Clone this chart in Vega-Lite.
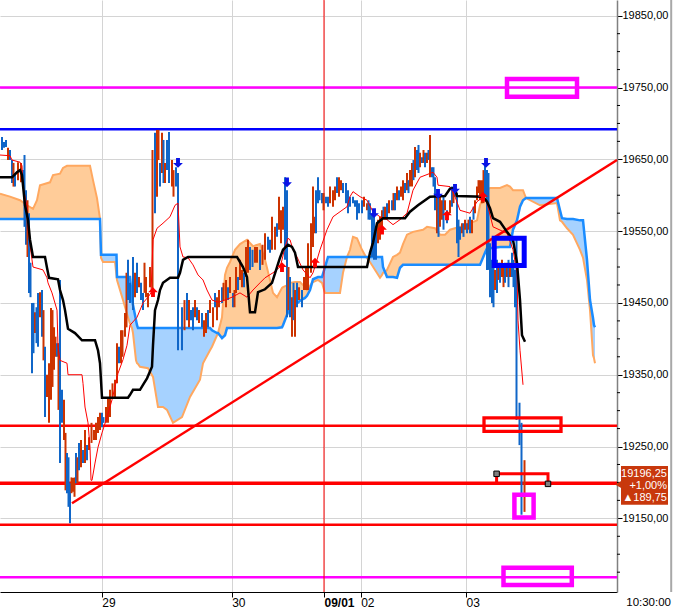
{
"$schema": "https://vega.github.io/schema/vega-lite/v6.json",
"width": 617,
"height": 592,
"autosize": {"type": "none"},
"padding": {"left": 0, "top": 0, "right": 56, "bottom": 22},
"background": "#FFFFFF",
"config": {"view": {"stroke": null}, "font": "Liberation Sans, Arial, sans-serif"},
"datasets": {
"cloud": [
{"t":0,"a":19602,"b":19567,"s":1,"f":"o"},{"t":5,"a":19598,"b":19567,"s":1,"f":"o"},{"t":10,"a":19593,"b":19567,"s":1,"f":"o"},{"t":13.5,"a":19586,"b":19567,"s":1,"f":"o"},{"t":16.5,"a":19581,"b":19567,"s":1,"f":"o"},{"t":18.5,"a":19593,"b":19567,"s":1,"f":"o"},{"t":20,"a":19614,"b":19567,"s":1,"f":"o"},{"t":25,"a":19618,"b":19567,"s":1,"f":"o"},{"t":26.5,"a":19628,"b":19567,"s":1,"f":"o"},{"t":30,"a":19630,"b":19567,"s":1,"f":"o"},{"t":31.5,"a":19638,"b":19567,"s":1,"f":"o"},{"t":33.5,"a":19641,"b":19567,"s":1,"f":"o"},{"t":45,"a":19641,"b":19567,"s":1,"f":"o"},{"t":46.5,"a":19621,"b":19567,"s":1,"f":"o"},{"t":48.5,"a":19596,"b":19567,"s":1,"f":"o"},{"t":50,"a":19567,"b":19567,"s":1,"f":"o"},
{"t":50,"a":19567,"b":19567,"s":2,"f":"b"},{"t":50.5,"a":19513,"b":19517,"s":2,"f":"b"},{"t":51.5,"a":19507,"b":19517,"s":2,"f":"b"},{"t":57,"a":19507,"b":19517,"s":2,"f":"b"},{"t":57.5,"a":19507,"b":19517,"s":2,"f":"b"},{"t":58.25,"a":19488,"b":19517,"s":2,"f":"b"},{"t":58.5,"a":19482,"b":19486,"s":2,"f":"b"},{"t":61.5,"a":19454,"b":19486,"s":2,"f":"b"},{"t":64,"a":19430,"b":19486,"s":2,"f":"b"},{"t":65,"a":19421,"b":19486,"s":2,"f":"b"},{"t":66,"a":19415,"b":19454,"s":2,"f":"b"},{"t":66.5,"a":19408,"b":19447,"s":2,"f":"b"},{"t":68,"a":19370,"b":19426,"s":2,"f":"b"},{"t":68.5,"a":19366,"b":19419,"s":2,"f":"b"},{"t":69,"a":19365,"b":19415,"s":2,"f":"b"},{"t":70,"a":19361,"b":19415,"s":2,"f":"b"},{"t":74,"a":19359,"b":19415,"s":2,"f":"b"},{"t":76.5,"a":19347,"b":19415,"s":2,"f":"b"},{"t":79,"a":19305,"b":19415,"s":2,"f":"b"},{"t":81.5,"a":19305,"b":19415,"s":2,"f":"b"},{"t":83.5,"a":19301,"b":19415,"s":2,"f":"b"},{"t":86.5,"a":19283,"b":19415,"s":2,"f":"b"},{"t":91,"a":19291,"b":19415,"s":2,"f":"b"},{"t":95,"a":19319,"b":19415,"s":2,"f":"b"},{"t":100,"a":19343,"b":19415,"s":2,"f":"b"},{"t":101.5,"a":19366,"b":19415,"s":2,"f":"b"},{"t":105,"a":19384,"b":19415,"s":2,"f":"b"},{"t":106,"a":19389,"b":19412,"s":2,"f":"b"},{"t":108.5,"a":19405,"b":19408,"s":2,"f":"b"},{"t":109,"a":19408,"b":19408,"s":2,"f":"b"},
{"t":109,"a":19408,"b":19408,"s":3,"f":"o"},{"t":111,"a":19430,"b":19401,"s":3,"f":"o"},{"t":112.5,"a":19489,"b":19405,"s":3,"f":"o"},{"t":113.5,"a":19499,"b":19415,"s":3,"f":"o"},{"t":115,"a":19507,"b":19415,"s":3,"f":"o"},{"t":117.5,"a":19524,"b":19415,"s":3,"f":"o"},{"t":120,"a":19532,"b":19415,"s":3,"f":"o"},{"t":123.5,"a":19538,"b":19415,"s":3,"f":"o"},{"t":126.5,"a":19529,"b":19415,"s":3,"f":"o"},{"t":130,"a":19532,"b":19415,"s":3,"f":"o"},{"t":132.5,"a":19510,"b":19415,"s":3,"f":"o"},{"t":135,"a":19482,"b":19415,"s":3,"f":"o"},{"t":136.5,"a":19464,"b":19415,"s":3,"f":"o"},{"t":138.5,"a":19458,"b":19415,"s":3,"f":"o"},{"t":141,"a":19471,"b":19416,"s":3,"f":"o"},{"t":141.5,"a":19472,"b":19419,"s":3,"f":"o"},{"t":144,"a":19475,"b":19437,"s":3,"f":"o"},{"t":145,"a":19478,"b":19442,"s":3,"f":"o"},{"t":147.5,"a":19479,"b":19447,"s":3,"f":"o"},{"t":150,"a":19479,"b":19453,"s":3,"f":"o"},{"t":152.5,"a":19472,"b":19457,"s":3,"f":"o"},{"t":153.5,"a":19468,"b":19460,"s":3,"f":"o"},{"t":155,"a":19474,"b":19468,"s":3,"f":"o"},{"t":156,"a":19478,"b":19478,"s":3,"f":"o"},
{"t":156,"a":19478,"b":19478,"s":4,"f":"b"},{"t":156.5,"a":19479,"b":19483,"s":4,"f":"b"},{"t":159,"a":19482,"b":19486,"s":4,"f":"b"},{"t":161,"a":19478,"b":19486,"s":4,"f":"b"},{"t":162.5,"a":19464,"b":19500,"s":4,"f":"b"},{"t":164,"a":19464,"b":19514,"s":4,"f":"b"},{"t":170,"a":19464,"b":19514,"s":4,"f":"b"},{"t":171.5,"a":19492,"b":19514,"s":4,"f":"b"},{"t":173.5,"a":19514,"b":19514,"s":4,"f":"b"},
{"t":173.5,"a":19514,"b":19514,"s":5,"f":"o"},{"t":175,"a":19524,"b":19514,"s":5,"f":"o"},{"t":176.5,"a":19542,"b":19514,"s":5,"f":"o"},{"t":178.5,"a":19540,"b":19514,"s":5,"f":"o"},{"t":181,"a":19524,"b":19514,"s":5,"f":"o"},{"t":183,"a":19514,"b":19514,"s":5,"f":"o"},
{"t":183,"a":19514,"b":19514,"s":6,"f":"b"},{"t":185,"a":19507,"b":19514,"s":6,"f":"b"},{"t":190,"a":19485,"b":19514,"s":6,"f":"b"},{"t":191,"a":19489,"b":19514,"s":6,"f":"b"},{"t":191.5,"a":19492,"b":19500,"s":6,"f":"b"},{"t":192.5,"a":19493,"b":19493,"s":6,"f":"b"},
{"t":192.5,"a":19493,"b":19493,"s":7,"f":"o"},{"t":193.5,"a":19496,"b":19486,"s":7,"f":"o"},{"t":196.5,"a":19514,"b":19486,"s":7,"f":"o"},{"t":198.5,"a":19517,"b":19485,"s":7,"f":"o"},{"t":200,"a":19520,"b":19499,"s":7,"f":"o"},{"t":201.5,"a":19532,"b":19503,"s":7,"f":"o"},{"t":203.5,"a":19545,"b":19503,"s":7,"f":"o"},{"t":206.5,"a":19549,"b":19503,"s":7,"f":"o"},{"t":211.5,"a":19552,"b":19503,"s":7,"f":"o"},{"t":213.5,"a":19556,"b":19503,"s":7,"f":"o"},{"t":217.5,"a":19554,"b":19503,"s":7,"f":"o"},{"t":220,"a":19545,"b":19503,"s":7,"f":"o"},{"t":222.5,"a":19545,"b":19503,"s":7,"f":"o"},{"t":225,"a":19552,"b":19503,"s":7,"f":"o"},{"t":230,"a":19556,"b":19503,"s":7,"f":"o"},{"t":235,"a":19561,"b":19503,"s":7,"f":"o"},{"t":238.5,"a":19565,"b":19503,"s":7,"f":"o"},{"t":240,"a":19586,"b":19503,"s":7,"f":"o"},{"t":242.5,"a":19605,"b":19520,"s":7,"f":"o"},{"t":243.5,"a":19607,"b":19526,"s":7,"f":"o"},{"t":245,"a":19610,"b":19526,"s":7,"f":"o"},{"t":250,"a":19610,"b":19528,"s":7,"f":"o"},{"t":253.5,"a":19614,"b":19528,"s":7,"f":"o"},{"t":255,"a":19612,"b":19528,"s":7,"f":"o"},{"t":256.5,"a":19607,"b":19552,"s":7,"f":"o"},{"t":258.5,"a":19607,"b":19565,"s":7,"f":"o"},{"t":260,"a":19607,"b":19584,"s":7,"f":"o"},{"t":261.5,"a":19607,"b":19593,"s":7,"f":"o"},{"t":263,"a":19596,"b":19596,"s":7,"f":"o"},
{"t":263,"a":19596,"b":19596,"s":8,"f":"b"},{"t":270,"a":19586,"b":19596,"s":8,"f":"b"},{"t":278.5,"a":19589,"b":19596,"s":8,"f":"b"},{"t":280,"a":19565,"b":19579,"s":8,"f":"b"},{"t":281,"a":19563,"b":19568,"s":8,"f":"b"},{"t":283.5,"a":19554,"b":19567,"s":8,"f":"b"},{"t":286.5,"a":19545,"b":19567,"s":8,"f":"b"},{"t":290,"a":19524,"b":19565,"s":8,"f":"b"},{"t":291.5,"a":19513,"b":19565,"s":8,"f":"b"},{"t":293.5,"a":19482,"b":19510,"s":8,"f":"b"},{"t":295,"a":19440,"b":19454,"s":8,"f":"b"},{"t":296.5,"a":19377,"b":19429,"s":8,"f":"b"},{"t":297,"a":19373,"b":19419,"s":8,"f":"b"},{"t":297.5,"a":19366,"b":19416,"s":8,"f":"b"}
],
"bars": [
{"t":1,"l":19663,"h":19681,"d":"d"},{"t":2,"l":19666,"h":19674,"d":"d"},{"t":3,"l":19667,"h":19677,"d":"d"},{"t":4,"l":19649,"h":19666,"d":"u"},{"t":5,"l":19649,"h":19663,"d":"d"},{"t":6,"l":19617,"h":19649,"d":"d"},{"t":6.75,"l":19612,"h":19645,"d":"u"},{"t":7.5,"l":19612,"h":19631,"d":"d"},{"t":9,"l":19621,"h":19646,"d":"u"},{"t":10.5,"l":19618,"h":19645,"d":"u"},
{"t":11.5,"l":19617,"h":19635,"d":"d"},{"t":12.25,"l":19556,"h":19656,"d":"d"},{"t":13,"l":19531,"h":19607,"d":"d"},{"t":13.75,"l":19514,"h":19593,"d":"u"},{"t":14.5,"l":19464,"h":19575,"d":"d"},{"t":15.25,"l":19458,"h":19506,"d":"d"},{"t":16,"l":19352,"h":19450,"d":"d"},{"t":16.75,"l":19380,"h":19450,"d":"d"},{"t":17.5,"l":19408,"h":19437,"d":"u"},{"t":18.25,"l":19394,"h":19444,"d":"d"},
{"t":19,"l":19389,"h":19464,"d":"d"},{"t":20,"l":19430,"h":19465,"d":"u"},{"t":21,"l":19403,"h":19468,"d":"d"},{"t":21.75,"l":19370,"h":19440,"d":"u"},{"t":22.5,"l":19291,"h":19389,"d":"d"},{"t":23.5,"l":19319,"h":19350,"d":"u"},{"t":24.5,"l":19283,"h":19366,"d":"u"},{"t":25.5,"l":19315,"h":19443,"d":"u"},{"t":26.25,"l":19333,"h":19440,"d":"u"},{"t":27,"l":19357,"h":19416,"d":"u"},
{"t":27.75,"l":19375,"h":19403,"d":"u"},{"t":28.5,"l":19375,"h":19394,"d":"d"},{"t":29.25,"l":19301,"h":19394,"d":"u"},{"t":30,"l":19227,"h":19482,"d":"d"},{"t":31,"l":19283,"h":19329,"d":"d"},{"t":32,"l":19259,"h":19315,"d":"u"},{"t":32.75,"l":19189,"h":19269,"d":"u"},{"t":33.5,"l":19185,"h":19241,"d":"d"},{"t":34.25,"l":19166,"h":19235,"d":"d"},{"t":35,"l":19143,"h":19199,"d":"d"},
{"t":35.75,"l":19185,"h":19207,"d":"u"},{"t":36.5,"l":19187,"h":19206,"d":"u"},{"t":37.25,"l":19180,"h":19207,"d":"u"},{"t":38,"l":19199,"h":19241,"d":"d"},{"t":38.75,"l":19199,"h":19235,"d":"u"},{"t":39.5,"l":19217,"h":19255,"d":"d"},{"t":40.5,"l":19221,"h":19259,"d":"u"},{"t":41.5,"l":19227,"h":19245,"d":"d"},{"t":42.5,"l":19227,"h":19273,"d":"u"},{"t":43.5,"l":19231,"h":19252,"d":"d"},
{"t":44.5,"l":19245,"h":19263,"d":"u"},{"t":45.75,"l":19255,"h":19283,"d":"u"},{"t":47,"l":19259,"h":19273,"d":"u"},{"t":48,"l":19259,"h":19283,"d":"u"},{"t":49,"l":19269,"h":19291,"d":"u"},{"t":50,"l":19273,"h":19297,"d":"u"},{"t":51,"l":19277,"h":19297,"d":"d"},{"t":51.75,"l":19283,"h":19291,"d":"d"},{"t":53,"l":19283,"h":19305,"d":"u"},{"t":54,"l":19283,"h":19319,"d":"u"},
{"t":55,"l":19291,"h":19329,"d":"u"},{"t":56.25,"l":19319,"h":19338,"d":"u"},{"t":57.5,"l":19319,"h":19343,"d":"u"},{"t":58.5,"l":19338,"h":19394,"d":"u"},{"t":59.5,"l":19366,"h":19389,"d":"d"},{"t":60.5,"l":19366,"h":19412,"d":"u"},{"t":61.25,"l":19375,"h":19412,"d":"u"},{"t":62.5,"l":19403,"h":19436,"d":"u"},{"t":63.25,"l":19416,"h":19492,"d":"u"},{"t":64,"l":19454,"h":19510,"d":"d"},
{"t":65,"l":19450,"h":19478,"d":"d"},{"t":66.5,"l":19440,"h":19514,"d":"d"},{"t":67.5,"l":19458,"h":19492,"d":"u"},{"t":68.5,"l":19464,"h":19506,"d":"d"},{"t":69.5,"l":19472,"h":19486,"d":"u"},{"t":70.5,"l":19454,"h":19478,"d":"d"},{"t":71.5,"l":19440,"h":19464,"d":"d"},{"t":72.25,"l":19464,"h":19506,"d":"u"},{"t":73,"l":19458,"h":19486,"d":"u"},{"t":74,"l":19444,"h":19464,"d":"u"},
{"t":75,"l":19472,"h":19500,"d":"u"},{"t":76.25,"l":19464,"h":19663,"d":"u"},{"t":77.5,"l":19575,"h":19687,"d":"d"},{"t":78.5,"l":19598,"h":19691,"d":"u"},{"t":79.25,"l":19649,"h":19691,"d":"u"},{"t":80,"l":19612,"h":19645,"d":"d"},{"t":81,"l":19631,"h":19687,"d":"u"},{"t":81.75,"l":19617,"h":19677,"d":"d"},{"t":82.5,"l":19617,"h":19645,"d":"u"},{"t":83.5,"l":19635,"h":19677,"d":"d"},
{"t":84.5,"l":19617,"h":19688,"d":"d"},{"t":86,"l":19612,"h":19649,"d":"u"},{"t":86.75,"l":19598,"h":19635,"d":"u"},{"t":88,"l":19612,"h":19639,"d":"d"},{"t":89,"l":19384,"h":19631,"d":"d"},{"t":91,"l":19384,"h":19444,"d":"d"},{"t":92.25,"l":19412,"h":19454,"d":"u"},{"t":93.5,"l":19426,"h":19464,"d":"d"},{"t":94.5,"l":19416,"h":19454,"d":"u"},{"t":95.5,"l":19426,"h":19440,"d":"d"},
{"t":96.5,"l":19412,"h":19444,"d":"d"},{"t":97.5,"l":19430,"h":19454,"d":"u"},{"t":98.5,"l":19426,"h":19444,"d":"d"},{"t":99.5,"l":19422,"h":19440,"d":"u"},{"t":101,"l":19416,"h":19436,"d":"d"},{"t":102,"l":19403,"h":19426,"d":"u"},{"t":103,"l":19408,"h":19436,"d":"u"},{"t":104,"l":19416,"h":19440,"d":"d"},{"t":105,"l":19436,"h":19454,"d":"u"},{"t":106.5,"l":19416,"h":19444,"d":"u"},
{"t":107.5,"l":19444,"h":19464,"d":"d"},{"t":108.5,"l":19426,"h":19458,"d":"u"},{"t":109.5,"l":19444,"h":19468,"d":"u"},{"t":111,"l":19450,"h":19472,"d":"d"},{"t":111.75,"l":19454,"h":19478,"d":"u"},{"t":113,"l":19444,"h":19482,"d":"u"},{"t":114,"l":19454,"h":19472,"d":"d"},{"t":115,"l":19464,"h":19486,"d":"u"},{"t":116.5,"l":19444,"h":19464,"d":"d"},{"t":117.25,"l":19444,"h":19468,"d":"u"},
{"t":118,"l":19464,"h":19500,"d":"u"},{"t":119,"l":19468,"h":19486,"d":"d"},{"t":120,"l":19482,"h":19510,"d":"u"},{"t":121,"l":19472,"h":19496,"d":"u"},{"t":122,"l":19472,"h":19492,"d":"d"},{"t":123,"l":19486,"h":19528,"d":"u"},{"t":124,"l":19492,"h":19538,"d":"u"},{"t":125,"l":19496,"h":19528,"d":"d"},{"t":126.25,"l":19500,"h":19524,"d":"d"},{"t":127.5,"l":19506,"h":19528,"d":"u"},
{"t":128.5,"l":19506,"h":19528,"d":"u"},{"t":130,"l":19496,"h":19524,"d":"d"},{"t":131.25,"l":19503,"h":19531,"d":"u"},{"t":132.5,"l":19510,"h":19547,"d":"u"},{"t":134,"l":19524,"h":19542,"d":"d"},{"t":135,"l":19520,"h":19538,"d":"d"},{"t":136,"l":19524,"h":19570,"d":"u"},{"t":137.5,"l":19524,"h":19556,"d":"u"},{"t":138.5,"l":19542,"h":19561,"d":"d"},{"t":139.5,"l":19552,"h":19598,"d":"u"},
{"t":140.5,"l":19533,"h":19579,"d":"u"},{"t":141.5,"l":19552,"h":19584,"d":"u"},{"t":142.5,"l":19510,"h":19625,"d":"d"},{"t":143.5,"l":19430,"h":19607,"d":"d"},{"t":144.25,"l":19440,"h":19500,"d":"u"},{"t":145,"l":19430,"h":19486,"d":"d"},{"t":146,"l":19403,"h":19458,"d":"u"},{"t":146.75,"l":19426,"h":19478,"d":"d"},{"t":147.5,"l":19403,"h":19468,"d":"u"},{"t":148.5,"l":19444,"h":19478,"d":"d"},
{"t":149.5,"l":19454,"h":19472,"d":"u"},{"t":151,"l":19444,"h":19468,"d":"d"},{"t":152,"l":19468,"h":19486,"d":"u"},{"t":153,"l":19468,"h":19500,"d":"u"},{"t":154,"l":19468,"h":19533,"d":"u"},{"t":155.5,"l":19492,"h":19561,"d":"u"},{"t":156.5,"l":19528,"h":19612,"d":"u"},{"t":157.25,"l":19547,"h":19570,"d":"u"},{"t":158,"l":19547,"h":19607,"d":"d"},{"t":159,"l":19589,"h":19625,"d":"d"},
{"t":159.75,"l":19593,"h":19607,"d":"d"},{"t":161,"l":19589,"h":19603,"d":"d"},{"t":161.75,"l":19579,"h":19603,"d":"u"},{"t":163,"l":19589,"h":19598,"d":"d"},{"t":164,"l":19584,"h":19598,"d":"d"},{"t":165,"l":19589,"h":19612,"d":"u"},{"t":166.5,"l":19584,"h":19607,"d":"u"},{"t":167.5,"l":19593,"h":19612,"d":"u"},{"t":168.5,"l":19603,"h":19625,"d":"d"},{"t":169.5,"l":19598,"h":19625,"d":"u"},
{"t":170.5,"l":19607,"h":19621,"d":"u"},{"t":171.5,"l":19603,"h":19617,"d":"d"},{"t":173,"l":19589,"h":19617,"d":"d"},{"t":174,"l":19575,"h":19607,"d":"d"},{"t":175,"l":19584,"h":19598,"d":"d"},{"t":176.5,"l":19589,"h":19598,"d":"d"},{"t":177.5,"l":19584,"h":19593,"d":"d"},{"t":178.5,"l":19566,"h":19593,"d":"d"},{"t":179.5,"l":19575,"h":19589,"d":"d"},{"t":181,"l":19575,"h":19593,"d":"d"},
{"t":182,"l":19584,"h":19598,"d":"u"},{"t":183.5,"l":19579,"h":19589,"d":"u"},{"t":184.25,"l":19566,"h":19593,"d":"d"},{"t":185,"l":19566,"h":19589,"d":"d"},{"t":186,"l":19514,"h":19575,"d":"d"},{"t":187,"l":19510,"h":19579,"d":"d"},{"t":188,"l":19510,"h":19556,"d":"d"},{"t":189,"l":19533,"h":19566,"d":"u"},{"t":190,"l":19538,"h":19570,"d":"u"},{"t":191,"l":19552,"h":19579,"d":"u"},
{"t":191.75,"l":19566,"h":19584,"d":"d"},{"t":192.5,"l":19566,"h":19584,"d":"u"},{"t":193.5,"l":19566,"h":19589,"d":"d"},{"t":194.5,"l":19575,"h":19593,"d":"u"},{"t":196,"l":19579,"h":19593,"d":"d"},{"t":196.75,"l":19579,"h":19603,"d":"u"},{"t":197.5,"l":19579,"h":19603,"d":"d"},{"t":198.5,"l":19593,"h":19612,"d":"u"},{"t":199.5,"l":19593,"h":19607,"d":"d"},{"t":200.5,"l":19598,"h":19612,"d":"u"},
{"t":201.5,"l":19593,"h":19621,"d":"u"},{"t":202.5,"l":19603,"h":19617,"d":"d"},{"t":203.5,"l":19607,"h":19631,"d":"u"},{"t":204.25,"l":19603,"h":19621,"d":"d"},{"t":205,"l":19612,"h":19635,"d":"u"},{"t":206,"l":19612,"h":19645,"d":"u"},{"t":206.75,"l":19621,"h":19649,"d":"d"},{"t":207.5,"l":19625,"h":19667,"d":"u"},{"t":208.5,"l":19635,"h":19663,"d":"d"},{"t":209.25,"l":19631,"h":19670,"d":"d"},
{"t":210,"l":19639,"h":19659,"d":"u"},{"t":211,"l":19645,"h":19653,"d":"d"},{"t":211.75,"l":19645,"h":19663,"d":"u"},{"t":212.5,"l":19639,"h":19659,"d":"d"},{"t":213.5,"l":19645,"h":19659,"d":"u"},{"t":214.25,"l":19649,"h":19663,"d":"d"},{"t":215,"l":19625,"h":19684,"d":"u"},{"t":216,"l":19625,"h":19639,"d":"d"},{"t":216.75,"l":19612,"h":19639,"d":"d"},{"t":217.5,"l":19579,"h":19625,"d":"d"},
{"t":218.5,"l":19547,"h":19598,"d":"u"},{"t":219.25,"l":19542,"h":19598,"d":"d"},{"t":220,"l":19556,"h":19598,"d":"u"},{"t":221,"l":19566,"h":19593,"d":"u"},{"t":221.75,"l":19552,"h":19598,"d":"d"},{"t":222.5,"l":19579,"h":19593,"d":"u"},{"t":223.5,"l":19561,"h":19579,"d":"d"},{"t":225,"l":19575,"h":19593,"d":"u"},{"t":226,"l":19584,"h":19612,"d":"d"},{"t":226.75,"l":19589,"h":19607,"d":"u"},
{"t":227.5,"l":19598,"h":19607,"d":"d"},{"t":228.5,"l":19533,"h":19603,"d":"d"},{"t":229.25,"l":19514,"h":19566,"d":"d"},{"t":230,"l":19538,"h":19556,"d":"d"},{"t":231,"l":19547,"h":19561,"d":"u"},{"t":231.75,"l":19542,"h":19561,"d":"d"},{"t":232.5,"l":19552,"h":19566,"d":"u"},{"t":233.5,"l":19547,"h":19561,"d":"d"},{"t":234.25,"l":19552,"h":19566,"d":"u"},{"t":235,"l":19547,"h":19570,"d":"d"},
{"t":236,"l":19547,"h":19566,"d":"u"},{"t":236.75,"l":19566,"h":19584,"d":"d"},{"t":237.5,"l":19575,"h":19593,"d":"u"},{"t":238.5,"l":19593,"h":19612,"d":"u"},{"t":239.25,"l":19603,"h":19621,"d":"u"},{"t":240,"l":19593,"h":19621,"d":"u"},{"t":241,"l":19589,"h":19621,"d":"u"},{"t":241.75,"l":19589,"h":19635,"d":"u"},{"t":242.5,"l":19598,"h":19645,"d":"d"},{"t":243.5,"l":19496,"h":19635,"d":"d"},
{"t":244.25,"l":19496,"h":19631,"d":"d"},{"t":245,"l":19458,"h":19533,"d":"d"},{"t":246,"l":19450,"h":19510,"d":"d"},{"t":246.75,"l":19444,"h":19500,"d":"d"},{"t":247.5,"l":19468,"h":19496,"d":"u"},{"t":248.5,"l":19464,"h":19510,"d":"d"},{"t":249.25,"l":19482,"h":19506,"d":"u"},{"t":250,"l":19478,"h":19506,"d":"d"},{"t":251,"l":19486,"h":19510,"d":"u"},{"t":251.75,"l":19472,"h":19500,"d":"u"},
{"t":252.5,"l":19478,"h":19506,"d":"d"},{"t":253.5,"l":19486,"h":19506,"d":"u"},{"t":254.25,"l":19472,"h":19510,"d":"d"},{"t":255,"l":19486,"h":19506,"d":"u"},{"t":256,"l":19486,"h":19520,"d":"d"},{"t":256.75,"l":19472,"h":19510,"d":"d"},{"t":257.5,"l":19444,"h":19496,"d":"d"},{"t":258.25,"l":19287,"h":19538,"d":"d"},{"t":259.75,"l":19252,"h":19311,"d":"d"},{"t":260.75,"l":19155,"h":19283,"d":"d"},
{"t":262.25,"l":19159,"h":19231,"d":"u"}
],
"kijun": [
{"t":0,"p":19625},{"t":6,"p":19625},{"t":8.5,"p":19632},{"t":10,"p":19635},{"t":11,"p":19628},{"t":12.5,"p":19586},{"t":14,"p":19566},{"t":15,"p":19538},{"t":16.5,"p":19514},{"t":22.5,"p":19514},{"t":23.5,"p":19499},{"t":24.5,"p":19485},{"t":29,"p":19483},{"t":30,"p":19468},{"t":31.5,"p":19454},{"t":32.5,"p":19440},{"t":34,"p":19414},{"t":37.5,"p":19408},{"t":41,"p":19398},{"t":47.5,"p":19398},{"t":49,"p":19384},{"t":50,"p":19366},{"t":51,"p":19318},{"t":64,"p":19318},{"t":65,"p":19322},{"t":66.5,"p":19329},{"t":70,"p":19329},{"t":71.5,"p":19336},{"t":73.5,"p":19345},{"t":76,"p":19361},{"t":76.5,"p":19391},{"t":77.5,"p":19440},{"t":79,"p":19454},{"t":80,"p":19468},{"t":81.5,"p":19478},{"t":85,"p":19485},{"t":89,"p":19485},{"t":90,"p":19492},{"t":91.5,"p":19510},{"t":94,"p":19514},{"t":118.5,"p":19514},{"t":120,"p":19507},{"t":121.5,"p":19500},{"t":123.5,"p":19486},{"t":125,"p":19437},{"t":127.5,"p":19437},{"t":129,"p":19465},{"t":132.5,"p":19469},{"t":136,"p":19478},{"t":138.5,"p":19500},{"t":140,"p":19513},{"t":141.5,"p":19524},{"t":144,"p":19531},{"t":146,"p":19528},{"t":147.5,"p":19520},{"t":149,"p":19500},{"t":183.5,"p":19500},{"t":185,"p":19520},{"t":186.5,"p":19534},{"t":188.5,"p":19561},{"t":191.5,"p":19568},{"t":202.5,"p":19568},{"t":205,"p":19577},{"t":209,"p":19586},{"t":215,"p":19598},{"t":222.5,"p":19599},{"t":225,"p":19609},{"t":227.5,"p":19610},{"t":228.5,"p":19599},{"t":241.5,"p":19598},{"t":243.5,"p":19591},{"t":245,"p":19582},{"t":246.5,"p":19568},{"t":250,"p":19563},{"t":253.5,"p":19549},{"t":256.5,"p":19538},{"t":258.5,"p":19506},{"t":260,"p":19454},{"t":261,"p":19405},{"t":262.5,"p":19396}
],
"tenkan": [
{"t":0,"p":19656},{"t":5,"p":19655},{"t":6,"p":19649},{"t":10,"p":19646},{"t":11,"p":19641},{"t":11.5,"p":19612},{"t":13.5,"p":19584},{"t":14,"p":19552},{"t":16,"p":19510},{"t":16.5,"p":19500},{"t":21.5,"p":19496},{"t":23.5,"p":19485},{"t":24,"p":19478},{"t":26,"p":19464},{"t":28.5,"p":19440},{"t":29,"p":19389},{"t":30,"p":19370},{"t":33.5,"p":19366},{"t":34,"p":19350},{"t":41,"p":19350},{"t":41.5,"p":19338},{"t":42.5,"p":19305},{"t":44,"p":19283},{"t":45,"p":19249},{"t":45.5,"p":19203},{"t":46,"p":19203},{"t":47.5,"p":19227},{"t":49,"p":19249},{"t":51,"p":19269},{"t":53.5,"p":19291},{"t":56,"p":19315},{"t":57.5,"p":19333},{"t":59,"p":19352},{"t":61.5,"p":19371},{"t":63.5,"p":19391},{"t":65,"p":19419},{"t":68.5,"p":19430},{"t":71.5,"p":19450},{"t":74,"p":19458},{"t":75.5,"p":19464},{"t":76.5,"p":19538},{"t":78.5,"p":19554},{"t":81.5,"p":19561},{"t":85,"p":19570},{"t":87.5,"p":19586},{"t":89,"p":19589},{"t":90,"p":19528},{"t":91.5,"p":19514},{"t":94,"p":19513},{"t":96.5,"p":19503},{"t":99,"p":19489},{"t":101.5,"p":19482},{"t":103.5,"p":19468},{"t":106,"p":19454},{"t":109,"p":19451},{"t":112.5,"p":19454},{"t":116,"p":19458},{"t":120,"p":19464},{"t":123.5,"p":19458},{"t":126.5,"p":19468},{"t":130,"p":19478},{"t":132.5,"p":19485},{"t":136.5,"p":19492},{"t":140,"p":19500},{"t":141,"p":19510},{"t":142.5,"p":19528},{"t":144,"p":19540},{"t":145,"p":19538},{"t":146.5,"p":19524},{"t":148.5,"p":19514},{"t":151.5,"p":19496},{"t":155,"p":19485},{"t":156.5,"p":19492},{"t":158.5,"p":19510},{"t":160,"p":19524},{"t":163.5,"p":19552},{"t":166.5,"p":19570},{"t":170,"p":19577},{"t":173.5,"p":19584},{"t":175,"p":19598},{"t":176.5,"p":19605},{"t":180,"p":19598},{"t":183.5,"p":19593},{"t":186.5,"p":19577},{"t":190,"p":19570},{"t":193.5,"p":19566},{"t":196.5,"p":19559},{"t":200,"p":19566},{"t":203.5,"p":19575},{"t":206.5,"p":19607},{"t":210,"p":19625},{"t":216.5,"p":19632},{"t":218.5,"p":19625},{"t":219,"p":19614},{"t":225,"p":19612},{"t":227.5,"p":19598},{"t":230,"p":19579},{"t":235,"p":19575},{"t":238.5,"p":19591},{"t":241.5,"p":19598},{"t":243.5,"p":19589},{"t":246.5,"p":19556},{"t":253.5,"p":19547},{"t":256.5,"p":19524},{"t":258.5,"p":19492},{"t":259,"p":19426},{"t":260,"p":19384},{"t":261.5,"p":19336}
],
"minor": [
{"t":308.5,"t2":310,"p":19075},{"t":308.5,"t2":310,"p":19100},{"t":308.5,"t2":310,"p":19125},{"t":308.5,"t2":310,"p":19175},{"t":308.5,"t2":310,"p":19200},{"t":308.5,"t2":310,"p":19225},{"t":308.5,"t2":310,"p":19275},{"t":308.5,"t2":310,"p":19300},{"t":308.5,"t2":310,"p":19325},{"t":308.5,"t2":310,"p":19375},{"t":308.5,"t2":310,"p":19400},{"t":308.5,"t2":310,"p":19425},{"t":308.5,"t2":310,"p":19475},{"t":308.5,"t2":310,"p":19500},{"t":308.5,"t2":310,"p":19525},{"t":308.5,"t2":310,"p":19575},{"t":308.5,"t2":310,"p":19600},{"t":308.5,"t2":310,"p":19625},{"t":308.5,"t2":310,"p":19675},{"t":308.5,"t2":310,"p":19700},{"t":308.5,"t2":310,"p":19725},{"t":308.5,"t2":310,"p":19775},{"t":308.5,"t2":310,"p":19800},{"t":308.5,"t2":310,"p":19825}
]
},
"layer": [
{
"data": {"name": "cloud"},
"mark": {"type": "area"},
"encoding": {
"x": {"field": "t", "type": "quantitative", "title": null,
 "scale": {"domain": [0, 308.5], "nice": false, "zero": false},
 "axis": {"orient": "bottom", "values": [50.9, 115.85, 162, 180.35, 233],
  "labelExpr": "datum.value == 50.9 ? '29' : datum.value == 115.85 ? '30' : datum.value == 162 ? '09/01' : datum.value == 180.35 ? '02' : '03'",
  "labelAlign": "left", "labelBaseline": "top", "labelPadding": 0, "labelOffset": 0, "labelFontSize": 12, "labelColor": "#000000",
  "labelFontWeight": {"condition": {"test": "datum.value == 162", "value": "bold"}, "value": "normal"},
  "labelFlush": false, "labelOverlap": false, "labelBound": false,
  "tickColor": "#000000", "tickSize": 5, "domainColor": "#000000", "domainWidth": 1,
  "grid": true, "gridColor": "#D4D4D4", "gridWidth": 1, "title": null}},
"y": {"field": "a", "type": "quantitative", "title": null,
 "scale": {"domain": [19047.4, 19871.9], "nice": false, "zero": false},
 "axis": {"orient": "right",
  "values": [19150, 19250, 19350, 19450, 19550, 19650, 19750, 19850],
  "format": ".2f",
  "labelExpr": "replace(datum.label, '.', ',')",
  "labelFontSize": 11, "labelColor": "#000000", "labelPadding": 0, "labelOverlap": false, "labelFlush": false, "labelBound": false,
  "tickColor": "#000000", "tickSize": 5,
  "domainColor": "#808080", "domainWidth": 1.5,
  "grid": true, "gridColor": "#D4D4D4", "gridWidth": 1,
  "title": null}},
"y2": {"field": "b"},
"fill": {"field": "f", "type": "nominal", "scale": {"domain": ["o", "b"], "range": ["#FFCC99", "#A6D2FF"]}, "legend": null},
"detail": {"field": "s", "type": "nominal"}
}
},
{
"data": {"name": "minor"},
"mark": {"type": "rule", "strokeWidth": 1, "color": "#000000"},
"encoding": {"x": {"field": "t", "type": "quantitative", "title": null}, "x2": {"field": "t2"}, "y": {"field": "p", "type": "quantitative", "title": null}}
},
{
"data": {"name": "cloud"},
"mark": {"type": "line", "color": "#FFA860", "strokeWidth": 2},
"encoding": {"x": {"field": "t", "type": "quantitative", "title": null}, "y": {"field": "a", "type": "quantitative", "title": null}}
},
{
"data": {"name": "cloud"},
"mark": {"type": "line", "color": "#1A8CFF", "strokeWidth": 2.5},
"encoding": {"x": {"field": "t", "type": "quantitative", "title": null}, "y": {"field": "b", "type": "quantitative", "title": null}}
},
{
"data": {"values": [{"t": 0, "t2": 308.5, "p": 19750}, {"t": 0, "t2": 308.5, "p": 19068}]},
"mark": {"type": "rule", "strokeWidth": 2.5, "color": "#FF00FF"},
"encoding": {"x": {"field": "t", "type": "quantitative", "title": null}, "x2": {"field": "t2"}, "y": {"field": "p", "type": "quantitative", "title": null}}
},
{
"data": {"values": [{"t": 0, "t2": 308.5, "p": 19692}]},
"mark": {"type": "rule", "strokeWidth": 2.5, "color": "#0000FF"},
"encoding": {"x": {"field": "t", "type": "quantitative", "title": null}, "x2": {"field": "t2"}, "y": {"field": "p", "type": "quantitative", "title": null}}
},
{
"data": {"values": [{"t": 0, "t2": 308.5, "p": 19279}, {"t": 0, "t2": 308.5, "p": 19141}]},
"mark": {"type": "rule", "strokeWidth": 2.5, "color": "#FF0000"},
"encoding": {"x": {"field": "t", "type": "quantitative", "title": null}, "x2": {"field": "t2"}, "y": {"field": "p", "type": "quantitative", "title": null}}
},
{
"data": {"values": [{"t": 0, "t2": 308.5, "p": 19199}]},
"mark": {"type": "rule", "strokeWidth": 3.5, "color": "#FF0000"},
"encoding": {"x": {"field": "t", "type": "quantitative", "title": null}, "x2": {"field": "t2"}, "y": {"field": "p", "type": "quantitative", "title": null}}
},
{
"data": {"values": [{"t": 162}]},
"mark": {"type": "rule", "strokeWidth": 1, "color": "#FF0000"},
"encoding": {"x": {"field": "t", "type": "quantitative", "title": null}}
},
{
"data": {"name": "bars"},
"mark": {"type": "rule", "strokeWidth": 2},
"encoding": {
"x": {"field": "t", "type": "quantitative", "title": null},
"y": {"field": "l", "type": "quantitative", "title": null},
"y2": {"field": "h"},
"color": {"field": "d", "type": "nominal", "scale": {"domain": ["u", "d"], "range": ["#CC3300", "#1066C8"]}, "legend": null}
}
},
{
"data": {"values": [{"t": 36, "p": 19171, "t2": 308.5, "p2": 19649}]},
"mark": {"type": "rule", "strokeWidth": 2.5, "color": "#FF0000"},
"encoding": {"x": {"field": "t", "type": "quantitative", "title": null}, "x2": {"field": "t2"}, "y": {"field": "p", "type": "quantitative", "title": null}, "y2": {"field": "p2"}}
},
{
"data": {"name": "tenkan"},
"mark": {"type": "line", "color": "#FF0000", "strokeWidth": 1},
"encoding": {"x": {"field": "t", "type": "quantitative", "title": null}, "y": {"field": "p", "type": "quantitative", "title": null}}
},
{
"data": {"name": "kijun"},
"mark": {"type": "line", "color": "#000000", "strokeWidth": 2.5},
"encoding": {"x": {"field": "t", "type": "quantitative", "title": null}, "y": {"field": "p", "type": "quantitative", "title": null}}
},
{
"data": {"values": [{"t": 89, "p": 19645}, {"t": 143.5, "p": 19618}, {"t": 187, "p": 19575}, {"t": 219, "p": 19602}, {"t": 227.5, "p": 19609}, {"t": 243, "p": 19645}]},
"mark": {"type": "point", "filled": true, "opacity": 1, "size": 95, "color": "#0A14E6", "shape": "M-0.4,-1L0.4,-1L0.4,0L1,0L0,1L-1,0L-0.4,0Z"},
"encoding": {"x": {"field": "t", "type": "quantitative", "title": null}, "y": {"field": "p", "type": "quantitative", "title": null}}
},
{
"data": {"values": [{"t": 76.5, "p": 19465}, {"t": 141, "p": 19500}, {"t": 157.5, "p": 19506}, {"t": 191, "p": 19552}, {"t": 223.5, "p": 19572}, {"t": 241.5, "p": 19598}]},
"mark": {"type": "point", "filled": true, "opacity": 1, "size": 95, "color": "#FF0000", "shape": "M-0.4,1L0.4,1L0.4,0L1,0L0,-1L-1,0L-0.4,0Z"},
"encoding": {"x": {"field": "t", "type": "quantitative", "title": null}, "y": {"field": "p", "type": "quantitative", "title": null}}
},
{
"data": {"values": [{"t": 253.5, "t2": 288.5, "p": 19762, "p2": 19737}, {"t": 257.2, "t2": 266.8, "p": 19183, "p2": 19151}, {"t": 251.75, "t2": 285.9, "p": 19081, "p2": 19057}]},
"mark": {"type": "rect", "filled": false, "color": "#FF00FF", "strokeWidth": 4.5},
"encoding": {"x": {"field": "t", "type": "quantitative", "title": null}, "x2": {"field": "t2"}, "y": {"field": "p", "type": "quantitative", "title": null}, "y2": {"field": "p2"}}
},
{
"data": {"values": [{"t": 247.1, "t2": 262.1, "p": 19540, "p2": 19502}]},
"mark": {"type": "rect", "filled": false, "color": "#0000FF", "strokeWidth": 5},
"encoding": {"x": {"field": "t", "type": "quantitative", "title": null}, "x2": {"field": "t2"}, "y": {"field": "p", "type": "quantitative", "title": null}, "y2": {"field": "p2"}}
},
{
"data": {"values": [{"t": 242, "t2": 280.5, "p": 19290, "p2": 19271}]},
"mark": {"type": "rect", "filled": false, "color": "#FF0000", "strokeWidth": 3.3},
"encoding": {"x": {"field": "t", "type": "quantitative", "title": null}, "x2": {"field": "t2"}, "y": {"field": "p", "type": "quantitative", "title": null}, "y2": {"field": "p2"}}
},
{
"data": {"values": [{"t": 248.3, "p": 19199, "o": 1}, {"t": 248.3, "p": 19212, "o": 2}, {"t": 274, "p": 19212, "o": 3}, {"t": 274, "p": 19198, "o": 4}]},
"mark": {"type": "line", "color": "#FF0000", "strokeWidth": 3},
"encoding": {"x": {"field": "t", "type": "quantitative", "title": null}, "y": {"field": "p", "type": "quantitative", "title": null}, "order": {"field": "o", "type": "quantitative"}}
},
{
"data": {"values": [{"t": 248.3, "p": 19212}, {"t": 274, "p": 19198}]},
"mark": {"type": "point", "shape": "square", "filled": true, "opacity": 1, "size": 30, "color": "#808080", "stroke": "#000000", "strokeWidth": 1},
"encoding": {"x": {"field": "t", "type": "quantitative", "title": null}, "y": {"field": "p", "type": "quantitative", "title": null}}
},
{
"data": {"values": [{"t": 310.5, "t2": 334, "p": 19223, "p2": 19169}]},
"mark": {"type": "rect", "color": "#C8380C"},
"encoding": {"x": {"field": "t", "type": "quantitative", "title": null}, "x2": {"field": "t2"}, "y": {"field": "p", "type": "quantitative", "title": null}, "y2": {"field": "p2"}}
},
{
"data": {"values": [{"t": 309.6, "p": 19197}]},
"mark": {"type": "point", "shape": "triangle-left", "filled": true, "opacity": 1, "size": 90, "color": "#C8380C"},
"encoding": {"x": {"field": "t", "type": "quantitative", "title": null}, "y": {"field": "p", "type": "quantitative", "title": null}}
},
{
"data": {"values": [{"t": 333.5, "p": 19212, "txt": "19196,25"}, {"t": 333.5, "p": 19195, "txt": "+1,00%"}, {"t": 333.5, "p": 19178, "txt": "▲189,75"}]},
"mark": {"type": "text", "align": "right", "baseline": "middle", "fontSize": 11, "color": "#FFFFFF"},
"encoding": {"x": {"field": "t", "type": "quantitative", "title": null}, "y": {"field": "p", "type": "quantitative", "title": null}, "text": {"field": "txt"}}
},
{
"data": {"values": [{"t": 335.5, "p": 19032, "txt": "10:30:00"}]},
"mark": {"type": "text", "align": "right", "baseline": "middle", "fontSize": 11.5, "color": "#000000"},
"encoding": {"x": {"field": "t", "type": "quantitative", "title": null}, "y": {"field": "p", "type": "quantitative", "title": null}, "text": {"field": "txt"}}
},
{
"data": {"values": [{"t": 335.6}]},
"mark": {"type": "rule", "strokeWidth": 2, "color": "#A8A8A8"},
"encoding": {"x": {"field": "t", "type": "quantitative", "title": null}}
}
]
}
